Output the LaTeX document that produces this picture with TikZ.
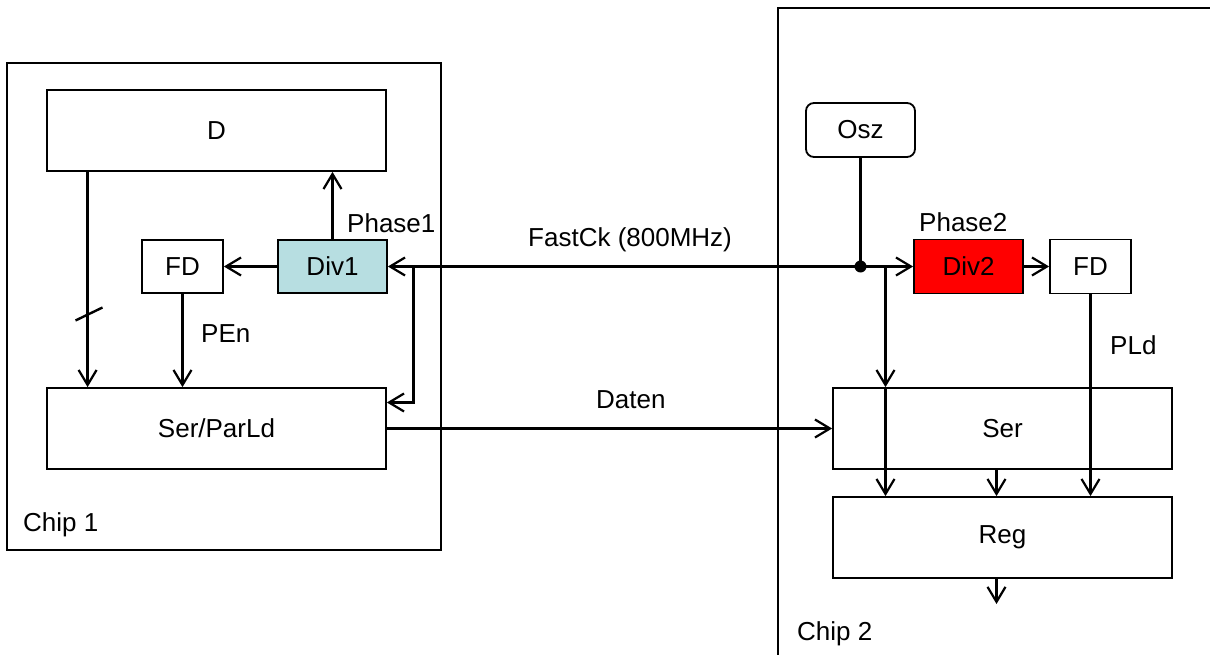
\documentclass[tikz,border=0pt]{standalone}
\usepackage{fontspec}
\setmainfont{Liberation Sans}
\usetikzlibrary{arrows.meta}
\definecolor{divblue}{RGB}{183,222,225}
\definecolor{divred}{RGB}{255,0,0}
\tikzset{
  every node/.style={font=\fontsize{26}{30}\selectfont, inner sep=0pt},
  blk/.style={draw, line width=1.8pt, minimum width=#1, minimum height=81pt},
  sblk/.style={draw, line width=1.8pt, minimum width=#1, minimum height=54pt},
  conn/.style={line width=2.4pt},
  arr/.style={line width=2.4pt, -{Straight Barb[length=15pt, width=18pt, line width=2.2pt]}},
  lbl/.style={anchor=base west},
}
\begin{document}
\begin{tikzpicture}[x=1pt, y=-1pt]
\useasboundingbox (0,0) rectangle (1210,655);
\clip (0,0) rectangle (1210,655);
% chip frames
\node[draw, line width=1.8pt, minimum width=434pt, minimum height=487pt] (chip1) at (224,306.5) {};
\node[draw, line width=1.8pt, minimum width=452pt, minimum height=672pt] (chip2) at (1004,344) {};
% chip 1 blocks
\node[blk=339pt] (D) at (216.5,130.5) {D};
\node[sblk=109pt, fill=divblue, minimum height=53pt] (Div1) at (332.5,266.5) {Div1};
\node[sblk=81pt, minimum height=53pt] (FD1) at (182.5,266.5) {FD};
\node[blk=339pt] (SPL) at (216.5,428.5) {Ser/ParLd};
% chip 2 blocks
\node[sblk=109pt, rounded corners=8pt] (Osz) at (860.5,130) {Osz};
\node[sblk=109pt, fill=divred] (Div2) at (968.5,266.5) {Div2};
\node[sblk=81pt] (FD2) at (1090.5,266.5) {FD};
\node[blk=339pt] (Ser) at (1002.5,428.5) {Ser};
\node[blk=339pt] (Reg) at (1002.5,537.5) {Reg};
% helper coordinates
\coordinate (J) at (Osz.south |- Div2.west);
\coordinate (B1) at (413.5,266.5);
\coordinate (B2) at (885.5,266.5);
\coordinate (C) at (996.5,500);
\coordinate (out) at (996.5,604);
% chip 1 connectors
\draw[arr] ([xshift=41.5pt]D.south west) -- ([xshift=41.5pt]SPL.north west);
\draw[conn] (75.5,320.5) -- (102.5,307.5);
\draw[arr] (Div1.north) -- (Div1.north |- D.south);
\draw[arr] (Div1.west) -- (FD1.east);
\draw[arr] (FD1.south) -- (FD1.south |- SPL.north);
\draw[arr] (B1) |- ([yshift=26pt]SPL.east);
% clock
\draw[arr] (J) -- (Div1.east);
\draw[arr] (J) -- (Div2.west);
\draw[conn] (Osz.south) -- (J);
\fill (J) circle (6pt);
% data
\draw[arr] (SPL.east) -- (Ser.west);
% chip 2 connectors
\draw[arr] (Div2.east) -- (FD2.west);
\draw[arr] (B2) -- (B2 |- Ser.north);
\draw[arr] (B2 |- Ser.north) -- (B2 |- Reg.north);
\draw[arr] (FD2.south) -- (FD2.south |- Reg.north);
\draw[arr] (C |- Ser.south) -- (C |- Reg.north);
\draw[arr] (C |- Reg.south) -- (out);
% labels
\node[lbl] (l1) at (347,233) {Phase1};
\node[lbl] (l2) at (201,342) {PEn};
\node[lbl] (l3) at (528,247) {FastCk (800MHz)};
\node[lbl] (l4) at (596,408) {Daten};
\node[lbl] (l5) at (919,232) {Phase2};
\node[lbl] (l6) at (1110,354) {PLd};
\node[lbl] (l7) at (23,531) {Chip 1};
\node[lbl] (l8) at (797,640) {Chip 2};
\end{tikzpicture}
\end{document}
